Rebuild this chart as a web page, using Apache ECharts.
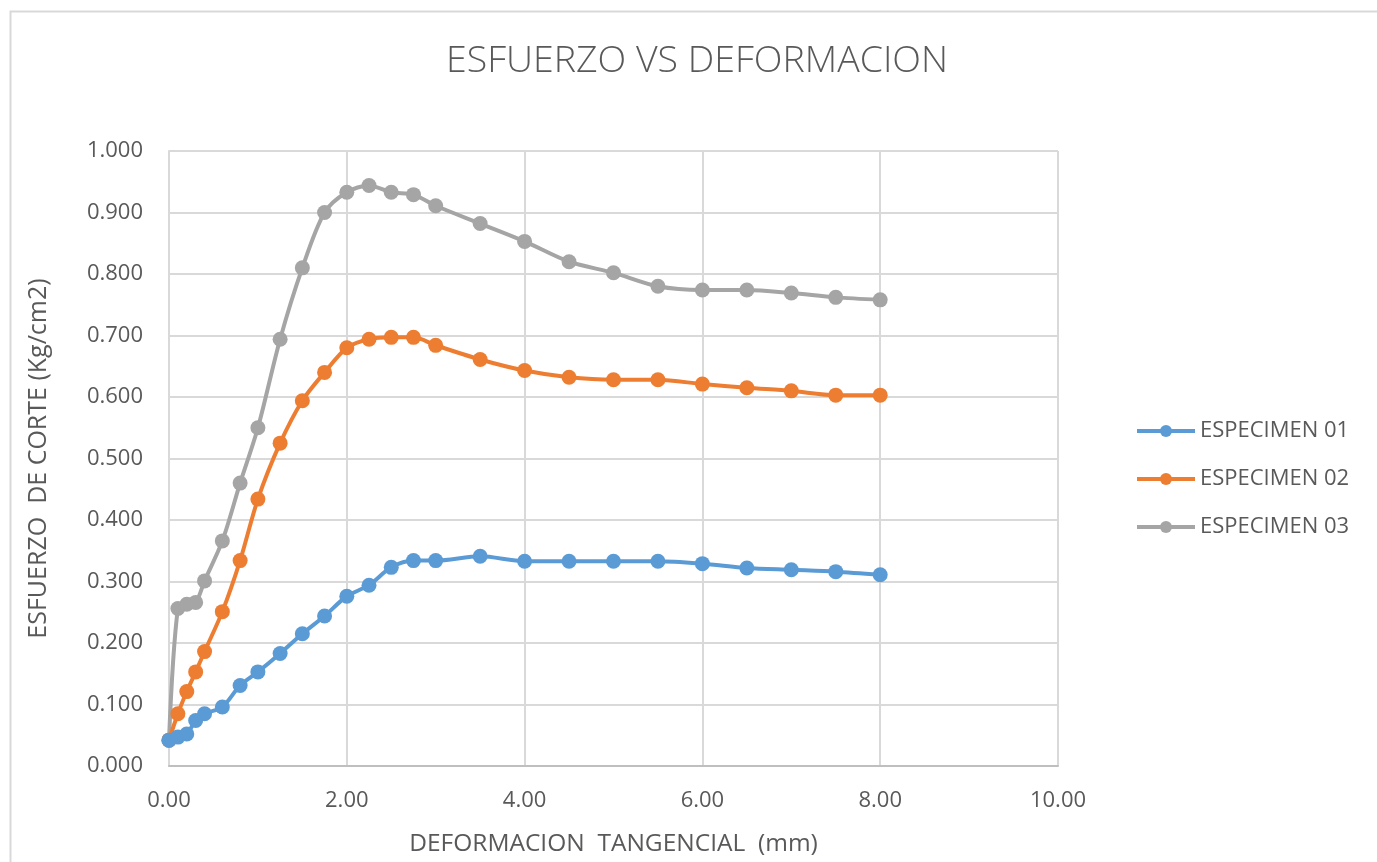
<!DOCTYPE html>
<html>
<head>
<meta charset="utf-8">
<script src="https://cdn.jsdelivr.net/npm/echarts@6/dist/echarts.min.js"></script>
<style>
  html, body { margin: 0; padding: 0; background: #ffffff; }
  #chart { width: 1377px; height: 862px; }
</style>
</head>
<body>
<div id="chart"></div>
<script>
// Deformación tangencial (mm)
const deformacion = [0, 0.1, 0.2, 0.3, 0.4, 0.6, 0.8, 1.0, 1.25, 1.5, 1.75, 2.0, 2.25, 2.5, 2.75, 3.0, 3.5, 4.0, 4.5, 5.0, 5.5, 6.0, 6.5, 7.0, 7.5, 8.0];

// Esfuerzo de corte (Kg/cm2) por espécimen
const especimen01 = [0.042, 0.047, 0.052, 0.074, 0.085, 0.096, 0.131, 0.153, 0.183, 0.215, 0.244, 0.276, 0.294, 0.323, 0.334, 0.334, 0.341, 0.333, 0.333, 0.333, 0.333, 0.329, 0.322, 0.319, 0.316, 0.311];
const especimen02 = [0.042, 0.085, 0.121, 0.153, 0.186, 0.251, 0.334, 0.434, 0.525, 0.594, 0.640, 0.680, 0.694, 0.697, 0.697, 0.684, 0.661, 0.643, 0.632, 0.628, 0.628, 0.621, 0.615, 0.610, 0.603, 0.603];
const especimen03 = [0.042, 0.256, 0.263, 0.266, 0.301, 0.366, 0.460, 0.550, 0.694, 0.810, 0.900, 0.933, 0.944, 0.933, 0.929, 0.911, 0.882, 0.853, 0.820, 0.802, 0.780, 0.774, 0.774, 0.769, 0.762, 0.758];

const seriesNames = ['ESPECIMEN 01', 'ESPECIMEN 02', 'ESPECIMEN 03'];
const seriesColors = ['#5b9bd5', '#ed7d31', '#a5a5a5'];
const seriesValues = [especimen01, especimen02, especimen03];

const FONT = 'Open Sans';
const TEXT = '#595959';
const GRID_LINE = '#d9d9d9';

const chart = echarts.init(document.getElementById('chart'));

const series = seriesValues.map((vals, i) => ({
  name: seriesNames[i],
  type: 'line',
  data: deformacion.map((x, j) => [x, vals[j]]),
  smooth: 0.3,
  symbol: 'circle',
  symbolSize: 15,
  showSymbol: true,
  z: 2 + (2 - i),
  lineStyle: { width: 4, color: seriesColors[i] },
  itemStyle: { color: seriesColors[i] },
  emphasis: { disabled: true }
}));

chart.setOption({
  animation: false,
  backgroundColor: '#ffffff',
  title: {
    text: 'ESFUERZO VS DEFORMACION',
    left: 441,
    top: 37,
    textStyle: { fontFamily: FONT, fontWeight: 300, fontSize: 37.5, color: TEXT }
  },
  graphic: [{
    type: 'rect',
    shape: { x: 10.5, y: 11.5, width: 1400, height: 900 },
    style: { fill: 'none', stroke: GRID_LINE, lineWidth: 2 },
    silent: true,
    z: -10
  }],
  legend: {
    orient: 'vertical',
    left: 1130,
    top: 414,
    itemWidth: 58,
    itemHeight: 15,
    itemGap: 24,
    data: seriesNames,
    lineStyle: { width: 4 },
    textStyle: { fontFamily: FONT, fontSize: 22, lineHeight: 24, color: TEXT }
  },
  grid: { left: 169, right: 319, top: 151, bottom: 96, outerBoundsMode: 'none' },
  xAxis: {
    type: 'value',
    min: 0,
    max: 10,
    interval: 2,
    name: 'DEFORMACION  TANGENCIAL  (mm)',
    nameLocation: 'middle',
    nameGap: 66,
    nameTextStyle: { fontFamily: FONT, fontSize: 24.5, color: TEXT },
    axisLine: { show: true, lineStyle: { color: '#bfbfbf', width: 2 } },
    axisTick: { show: false },
    axisLabel: {
      fontFamily: FONT, fontSize: 22, color: TEXT, margin: 24,
      formatter: v => v.toFixed(2)
    },
    splitLine: { show: true, lineStyle: { color: GRID_LINE, width: 2 } }
  },
  yAxis: {
    type: 'value',
    min: 0,
    max: 1,
    interval: 0.1,
    name: 'ESFUERZO  DE CORTE (Kg/cm2)',
    nameLocation: 'middle',
    nameGap: 118,
    nameTextStyle: { fontFamily: FONT, fontSize: 25, color: TEXT },
    axisLine: { show: true, lineStyle: { color: GRID_LINE, width: 2 } },
    axisTick: { show: false },
    axisLabel: {
      fontFamily: FONT, fontSize: 22, color: TEXT, margin: 26,
      formatter: v => v.toFixed(3)
    },
    splitLine: { show: true, lineStyle: { color: GRID_LINE, width: 2 } }
  },
  series: series
});
</script>
</body>
</html>
